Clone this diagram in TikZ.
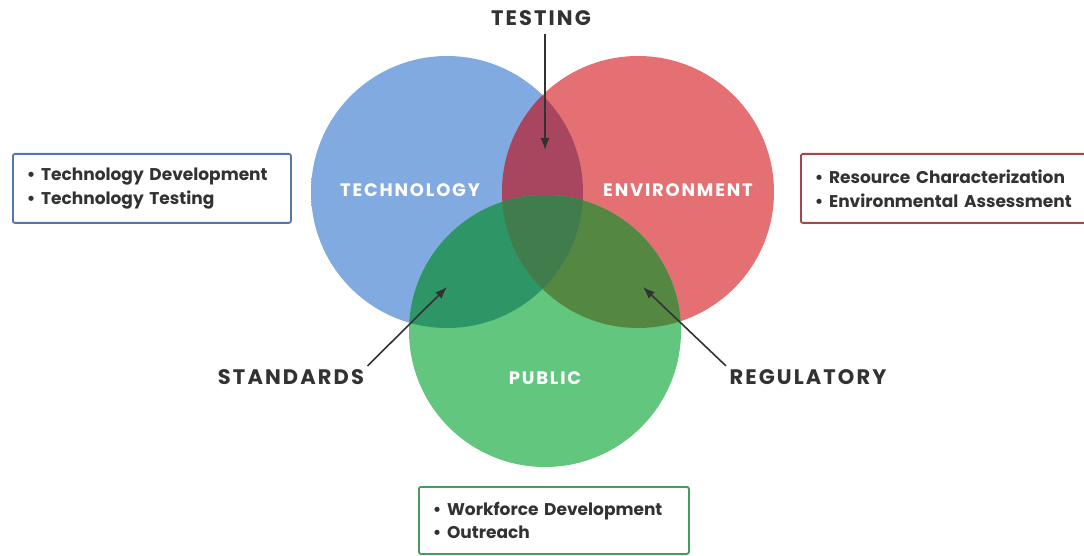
\documentclass[tikz,border=0pt]{standalone}
\usepackage{fontspec}
\setmainfont{Poppins}
\newfontfamily\capfont{Poppins}[LetterSpace=10]
\usetikzlibrary{arrows.meta}

\definecolor{techblue}{RGB}{128,170,224}
\definecolor{techrim}{RGB}{70,108,176}
\definecolor{envred}{RGB}{228,112,116}
\definecolor{envrim}{RGB}{184,62,74}
\definecolor{pubgreen}{RGB}{98,198,126}
\definecolor{pubrim}{RGB}{52,146,84}
\definecolor{techenv}{RGB}{168,70,96}
\definecolor{techpub}{RGB}{46,150,102}
\definecolor{envpub}{RGB}{84,136,66}
\definecolor{allthree}{RGB}{64,124,76}
\definecolor{inkgray}{RGB}{50,50,52}
\definecolor{techframe}{RGB}{84,118,168}
\definecolor{envframe}{RGB}{164,70,76}
\definecolor{pubframe}{RGB}{70,156,96}

\pgfdeclareradialshading{techshade}{\pgfpointorigin}{color(0bp)=(techblue); color(36bp)=(techblue); color(50bp)=(techrim)}
\pgfdeclareradialshading{envshade}{\pgfpointorigin}{color(0bp)=(envred); color(36bp)=(envred); color(50bp)=(envrim)}
\pgfdeclareradialshading{pubshade}{\pgfpointorigin}{color(0bp)=(pubgreen); color(36bp)=(pubgreen); color(50bp)=(pubrim)}

\tikzset{
  venn label/.style={text=white, font=\capfont\bfseries\fontsize{18}{20}\selectfont},
  callout/.style={text=inkgray, font=\capfont\bfseries\fontsize{21}{24}\selectfont},
  pointer/.style={-{Latex[length=12pt,width=9pt]}, line width=1.6pt, draw=inkgray},
  listbox/.style={draw, line width=1.8pt, rounded corners=2pt, fill=white, anchor=north west,
    align=left, text=inkgray, font=\bfseries\fontsize{17}{24}\selectfont,
    inner xsep=14pt, minimum height=69pt}
}

\begin{document}
\begin{tikzpicture}[x=1pt,y=-1pt]
    \useasboundingbox (0,0) rectangle (1084,556);

    \def\techcircle{(447,192) circle (136pt)}
    \def\envcircle{(638,192) circle (136pt)}
    \def\pubcircle{(545,331) circle (136pt)}

    %shade the upper circles:
    \shade[shading=techshade] \techcircle;
    \shade[shading=envshade] \envcircle;
    %technology and environment:
    \begin{scope}
        \clip \techcircle;
        \fill[techenv] \envcircle;
    \end{scope}
    %public on top:
    \shade[shading=pubshade] \pubcircle;
    \begin{scope}
        \clip \pubcircle;
        \fill[techpub] \techcircle;
    \end{scope}
    \begin{scope}
        \clip \pubcircle;
        \fill[envpub] \envcircle;
    \end{scope}
    %all three:
    \begin{scope}
        \clip \pubcircle;
        \clip \techcircle;
        \fill[allthree] \envcircle;
    \end{scope}

    %circle names:
    \node[venn label] (tech) at (410,190) {TECHNOLOGY};
    \node[venn label] (env) at (678,190) {ENVIRONMENT};
    \node[venn label] (pub) at (545,378) {PUBLIC};

    %overlap names and arrows:
    \node[callout] (testing) at (541,18) {TESTING};
    \node[callout] (standards) at (291,377) {STANDARDS};
    \node[callout] (regulatory) at (808,377) {REGULATORY};
    \coordinate (testtip) at (545,150);
    \coordinate (stdtip) at (447,287);
    \coordinate (regtip) at (643,287);
    \draw[pointer, shorten <=5pt] (testing.south -| testtip) -- (testtip);
    \draw[pointer] (standards.north east) -- (stdtip);
    \draw[pointer] (regulatory.north west) -- (regtip);

    %lists:
    \node[listbox, draw=techframe, text width=250pt] (techlist) at (12,153)
        {• Technology Development\\• Technology Testing};
    \node[listbox, draw=envframe, text width=262pt] (envlist) at (800,153)
        {• Resource Characterization\\• Environmental Assessment};
    \node[listbox, draw=pubframe, text width=242pt, minimum height=67pt] (publist) at (418,486)
        {• Workforce Development\\• Outreach};

\end{tikzpicture}
\end{document}
